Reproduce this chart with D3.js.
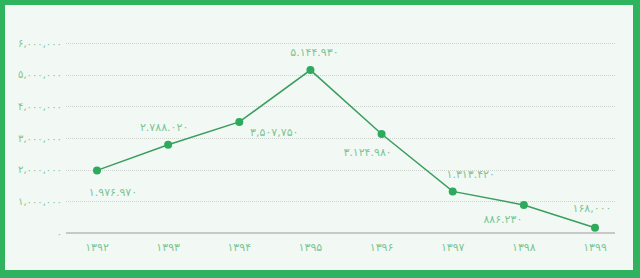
<!DOCTYPE html>
<html><head><meta charset="utf-8">
<script src="https://cdn.jsdelivr.net/npm/d3@7"></script>
<style>
html,body{margin:0;padding:0;background:#fff;}
svg{display:block;}
</style></head>
<body>
<svg id="c" width="640" height="278"></svg>
<script>
const categories = ["۱۳۹۲","۱۳۹۳","۱۳۹۴","۱۳۹۵","۱۳۹۶","۱۳۹۷","۱۳۹۸","۱۳۹۹"];
const values = [1976970, 2788020, 3507750, 5144930, 3124980, 1313420, 886230, 168000];
const valueLabels = ["۱.۹۷۶.۹۷۰","۲.۷۸۸.۰۲۰","۳,۵۰۷,۷۵۰","۵.۱۴۴.۹۳۰","۳.۱۲۴.۹۸۰","۱.۳۱۳.۴۲۰","۸۸۶.۲۳۰","۱۶۸,۰۰۰"];
const yTicks = [0, 1000000, 2000000, 3000000, 4000000, 5000000, 6000000];
const yTickLabels = ["۰","۱,۰۰۰,۰۰۰","۲,۰۰۰,۰۰۰","۳,۰۰۰,۰۰۰","۴,۰۰۰,۰۰۰","۵,۰۰۰,۰۰۰","۶,۰۰۰,۰۰۰"];

const svg = d3.select("#c");
const W = 640, H = 278;
const green = "#30b35f";
const textCol = "#7cc596";
const font = "'DejaVu Sans', sans-serif";

// frame
svg.append("rect").attr("x",0).attr("y",0).attr("width",W).attr("height",H).attr("fill",green);
svg.append("rect").attr("x",5).attr("y",5).attr("width",628).attr("height",265).attr("fill","#f2f9f4");

const x = d3.scalePoint().domain(categories).range([97, 595]);
const y = d3.scaleLinear().domain([0, 6000000]).range([233, 43]);
const gx0 = 66, gx1 = 615;

// grid
svg.append("g").selectAll("line").data(yTicks.filter(d=>d>0)).join("line")
  .attr("x1",gx0).attr("x2",gx1)
  .attr("y1",d=>Math.round(y(d))+0.5).attr("y2",d=>Math.round(y(d))+0.5)
  .attr("stroke","#cfd4d0").attr("stroke-width",1).attr("stroke-dasharray","1,1");
// zero axis
svg.append("line").attr("x1",gx0).attr("x2",gx1).attr("y1",y(0)).attr("y2",y(0))
  .attr("stroke","#c8c8c8").attr("stroke-width",2);

// y tick labels
svg.append("g").selectAll("text").data(yTicks).join("text")
  .attr("x",62).attr("y",d=>y(d)+3.5)
  .attr("text-anchor","end").attr("direction","ltr")
  .attr("font-family",font).attr("font-size",10).attr("fill",textCol)
  .text((d,i)=>yTickLabels[i]);

// x labels
svg.append("g").selectAll("text").data(categories).join("text")
  .attr("x",d=>x(d)).attr("y",251)
  .attr("text-anchor","middle")
  .attr("font-family",font).attr("font-size",11).attr("fill",textCol)
  .text(d=>d);

// line
const pts = categories.map((c,i)=>[x(c), y(values[i])]);
svg.append("path").attr("d", d3.line()(pts)).attr("fill","none")
  .attr("stroke","#3a9d5e").attr("stroke-width",1.5);
svg.append("g").selectAll("circle").data(pts).join("circle")
  .attr("cx",d=>d[0]).attr("cy",d=>d[1]).attr("r",4).attr("fill","#2eaa5c");

// value labels (layout offsets)
const off = [[16,26],[-4,-14],[35,14],[4,-14],[-14,22],[18,-13],[-21,18],[-3,-16]];
svg.append("g").selectAll("text").data(pts).join("text")
  .attr("x",(d,i)=>d[0]+off[i][0]).attr("y",(d,i)=>d[1]+off[i][1])
  .attr("text-anchor","middle").attr("direction","ltr")
  .attr("font-family",font).attr("font-size",11).attr("fill",textCol)
  .text((d,i)=>valueLabels[i]);
</script>
</body></html>
